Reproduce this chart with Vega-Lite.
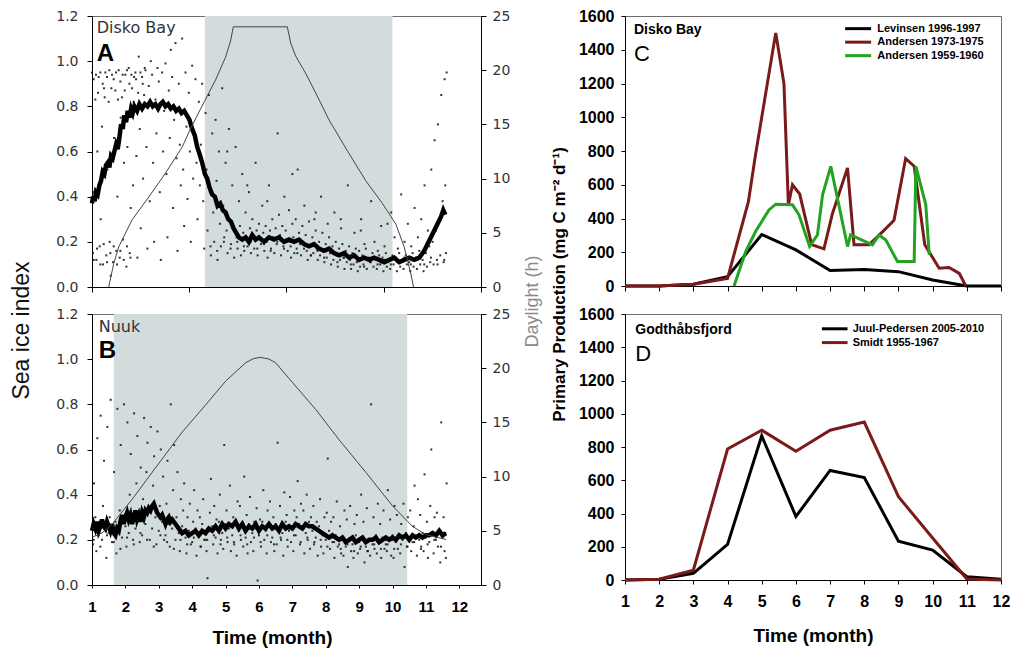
{
"$schema": "https://vega.github.io/schema/vega-lite/v6.json",
"background": "white",
"padding": {"left": 9, "top": 7, "right": 5, "bottom": 5},
"config": {
  "view": {"stroke": "#6e6e6e", "strokeWidth": 1},
  "font": "Liberation Sans",
  "axis": {"grid": false, "domainColor": "#000", "tickColor": "#000", "domainWidth": 1, "tickWidth": 1}
},
"columns": 2,
"spacing": {"row": 27, "column": 144},
"bounds": "flush",
"datasets": {
"shadeA": [{"m": 4.38, "m2": 10.0, "v": 0, "v2": 1.2}],
"shadeB": [{"m": 1.65, "m2": 10.44, "v": 0, "v2": 1.2}],
"ptsA": [
{"m":1.00,"v":0.95},{"m":1.03,"v":0.15},{"m":1.06,"v":0.42},
{"m":1.10,"v":0.83},{"m":1.13,"v":0.12},{"m":1.16,"v":0.60},
{"m":1.20,"v":0.93},{"m":1.23,"v":0.18},{"m":1.26,"v":0.30},
{"m":1.30,"v":0.71},{"m":1.33,"v":0.10},{"m":1.36,"v":0.88},
{"m":1.40,"v":0.95},{"m":1.43,"v":0.14},{"m":1.46,"v":0.52},
{"m":1.50,"v":0.82},{"m":1.53,"v":0.20},{"m":1.56,"v":0.05},
{"m":1.60,"v":0.94},{"m":1.63,"v":0.11},{"m":1.66,"v":0.66},
{"m":1.70,"v":0.87},{"m":1.73,"v":0.16},{"m":1.76,"v":0.40},
{"m":1.80,"v":0.96},{"m":1.83,"v":0.13},{"m":1.86,"v":0.75},
{"m":1.90,"v":0.84},{"m":1.93,"v":0.21},{"m":1.96,"v":0.55},
{"m":2.00,"v":0.94},{"m":2.03,"v":0.09},{"m":2.06,"v":0.62},
{"m":2.10,"v":0.97},{"m":2.13,"v":0.15},{"m":2.16,"v":0.35},
{"m":2.20,"v":0.88},{"m":2.23,"v":0.45},{"m":2.26,"v":0.93},
{"m":2.30,"v":0.95},{"m":2.33,"v":0.58},{"m":2.36,"v":0.13},
{"m":2.40,"v":1.02},{"m":2.43,"v":0.70},{"m":2.46,"v":0.26},
{"m":2.50,"v":0.93},{"m":2.53,"v":0.48},{"m":2.56,"v":0.85},
{"m":2.60,"v":0.96},{"m":2.63,"v":0.62},{"m":2.66,"v":0.17},
{"m":2.70,"v":0.89},{"m":2.73,"v":0.38},{"m":2.76,"v":1.00},
{"m":2.80,"v":0.94},{"m":2.83,"v":0.55},{"m":2.86,"v":0.20},
{"m":2.90,"v":0.83},{"m":2.93,"v":0.68},{"m":2.96,"v":0.97},
{"m":3.00,"v":0.91},{"m":3.03,"v":0.42},{"m":3.06,"v":0.12},
{"m":3.10,"v":0.95},{"m":3.13,"v":0.60},{"m":3.16,"v":0.78},
{"m":3.20,"v":0.99},{"m":3.23,"v":0.50},{"m":3.26,"v":0.22},
{"m":3.30,"v":0.87},{"m":3.33,"v":0.66},{"m":3.36,"v":1.05},
{"m":3.40,"v":0.93},{"m":3.43,"v":0.35},{"m":3.46,"v":0.74},
{"m":3.50,"v":1.08},{"m":3.53,"v":0.57},{"m":3.56,"v":0.16},
{"m":3.60,"v":0.90},{"m":3.63,"v":0.63},{"m":3.66,"v":0.45},
{"m":3.70,"v":1.10},{"m":3.73,"v":0.52},{"m":3.76,"v":0.27},
{"m":3.80,"v":0.95},{"m":3.83,"v":0.71},{"m":3.86,"v":0.39},
{"m":3.90,"v":0.86},{"m":3.93,"v":0.60},{"m":3.96,"v":0.20},
{"m":4.00,"v":0.98},{"m":4.03,"v":0.48},{"m":4.06,"v":0.67},
{"m":4.10,"v":0.92},{"m":4.13,"v":0.55},{"m":4.16,"v":0.30},
{"m":4.20,"v":0.82},{"m":4.23,"v":0.45},{"m":4.26,"v":0.63},
{"m":4.30,"v":0.90},{"m":4.33,"v":0.38},{"m":4.36,"v":0.17},
{"m":4.40,"v":0.77},{"m":4.43,"v":0.52},{"m":4.46,"v":0.25},
{"m":4.50,"v":0.85},{"m":4.53,"v":0.42},{"m":4.56,"v":0.14},
{"m":4.60,"v":0.68},{"m":4.63,"v":0.33},{"m":4.66,"v":0.20},
{"m":4.70,"v":0.74},{"m":4.73,"v":0.47},{"m":4.76,"v":0.12},
{"m":4.80,"v":0.60},{"m":4.83,"v":0.28},{"m":4.86,"v":0.18},
{"m":4.90,"v":0.88},{"m":4.93,"v":0.36},{"m":4.96,"v":0.22},
{"m":5.00,"v":0.55},{"m":5.03,"v":0.25},{"m":5.06,"v":0.15},
{"m":5.10,"v":0.70},{"m":5.13,"v":0.30},{"m":5.16,"v":0.19},
{"m":5.20,"v":0.45},{"m":5.23,"v":0.26},{"m":5.26,"v":0.13},
{"m":5.30,"v":0.62},{"m":5.33,"v":0.22},{"m":5.36,"v":0.17},
{"m":5.40,"v":0.38},{"m":5.43,"v":0.27},{"m":5.46,"v":0.14},
{"m":5.50,"v":0.50},{"m":5.53,"v":0.24},{"m":5.56,"v":0.16},
{"m":5.60,"v":0.33},{"m":5.63,"v":0.21},{"m":5.66,"v":0.18},
{"m":5.70,"v":0.42},{"m":5.73,"v":0.26},{"m":5.76,"v":0.15},
{"m":5.80,"v":0.30},{"m":5.83,"v":0.23},{"m":5.86,"v":0.17},
{"m":5.90,"v":0.55},{"m":5.93,"v":0.25},{"m":5.96,"v":0.14},
{"m":6.00,"v":0.28},{"m":6.03,"v":0.22},{"m":6.06,"v":0.19},
{"m":6.10,"v":0.36},{"m":6.13,"v":0.24},{"m":6.16,"v":0.16},
{"m":6.20,"v":0.27},{"m":6.23,"v":0.20},{"m":6.26,"v":0.13},
{"m":6.30,"v":0.45},{"m":6.33,"v":0.25},{"m":6.36,"v":0.17},
{"m":6.40,"v":0.30},{"m":6.43,"v":0.22},{"m":6.46,"v":0.15},
{"m":6.50,"v":0.26},{"m":6.53,"v":0.19},{"m":6.56,"v":0.68},
{"m":6.60,"v":0.32},{"m":6.63,"v":0.23},{"m":6.66,"v":0.14},
{"m":6.70,"v":0.27},{"m":6.73,"v":0.18},{"m":6.76,"v":0.40},
{"m":6.80,"v":0.25},{"m":6.83,"v":0.21},{"m":6.86,"v":0.16},
{"m":6.90,"v":0.34},{"m":6.93,"v":0.20},{"m":6.96,"v":0.13},
{"m":7.00,"v":0.28},{"m":7.03,"v":0.22},{"m":7.06,"v":0.15},
{"m":7.10,"v":0.30},{"m":7.13,"v":0.17},{"m":7.16,"v":0.52},
{"m":7.20,"v":0.24},{"m":7.23,"v":0.19},{"m":7.26,"v":0.14},
{"m":7.30,"v":0.27},{"m":7.33,"v":0.20},{"m":7.36,"v":0.36},
{"m":7.40,"v":0.23},{"m":7.43,"v":0.16},{"m":7.46,"v":0.12},
{"m":7.50,"v":0.29},{"m":7.53,"v":0.18},{"m":7.56,"v":0.14},
{"m":7.60,"v":0.22},{"m":7.63,"v":0.15},{"m":7.66,"v":0.30},
{"m":7.70,"v":0.25},{"m":7.73,"v":0.17},{"m":7.76,"v":0.12},
{"m":7.80,"v":0.20},{"m":7.83,"v":0.14},{"m":7.86,"v":0.40},
{"m":7.90,"v":0.24},{"m":7.93,"v":0.16},{"m":7.96,"v":0.11},
{"m":8.00,"v":0.19},{"m":8.03,"v":0.13},{"m":8.06,"v":0.28},
{"m":8.10,"v":0.22},{"m":8.13,"v":0.15},{"m":8.16,"v":0.10},
{"m":8.20,"v":0.18},{"m":8.23,"v":0.12},{"m":8.26,"v":0.33},
{"m":8.30,"v":0.20},{"m":8.33,"v":0.14},{"m":8.36,"v":0.09},
{"m":8.40,"v":0.17},{"m":8.43,"v":0.12},{"m":8.46,"v":0.26},
{"m":8.50,"v":0.19},{"m":8.53,"v":0.13},{"m":8.56,"v":0.08},
{"m":8.60,"v":0.16},{"m":8.63,"v":0.11},{"m":8.66,"v":0.45},
{"m":8.70,"v":0.18},{"m":8.73,"v":0.12},{"m":8.76,"v":0.08},
{"m":8.80,"v":0.15},{"m":8.83,"v":0.10},{"m":8.86,"v":0.24},
{"m":8.90,"v":0.17},{"m":8.93,"v":0.11},{"m":8.96,"v":0.07},
{"m":9.00,"v":0.16},{"m":9.03,"v":0.09},{"m":9.06,"v":0.30},
{"m":9.10,"v":0.14},{"m":9.13,"v":0.10},{"m":9.16,"v":0.19},
{"m":9.20,"v":0.17},{"m":9.23,"v":0.08},{"m":9.26,"v":0.12},
{"m":9.30,"v":0.13},{"m":9.33,"v":0.11},{"m":9.36,"v":0.38},
{"m":9.40,"v":0.15},{"m":9.43,"v":0.09},{"m":9.46,"v":0.20},
{"m":9.50,"v":0.12},{"m":9.53,"v":0.08},{"m":9.56,"v":0.16},
{"m":9.60,"v":0.14},{"m":9.63,"v":0.10},{"m":9.66,"v":0.27},
{"m":9.70,"v":0.13},{"m":9.73,"v":0.07},{"m":9.76,"v":0.18},
{"m":9.80,"v":0.15},{"m":9.83,"v":0.09},{"m":9.86,"v":0.11},
{"m":9.90,"v":0.12},{"m":9.93,"v":0.08},{"m":9.96,"v":0.33},
{"m":10.00,"v":0.14},{"m":10.03,"v":0.10},{"m":10.06,"v":0.22},
{"m":10.10,"v":0.13},{"m":10.13,"v":0.07},{"m":10.16,"v":0.17},
{"m":10.20,"v":0.15},{"m":10.23,"v":0.09},{"m":10.26,"v":0.41},
{"m":10.30,"v":0.12},{"m":10.33,"v":0.08},{"m":10.36,"v":0.20},
{"m":10.40,"v":0.14},{"m":10.43,"v":0.10},{"m":10.46,"v":0.28},
{"m":10.50,"v":0.11},{"m":10.53,"v":0.07},{"m":10.56,"v":0.18},
{"m":10.60,"v":0.15},{"m":10.63,"v":0.09},{"m":10.66,"v":0.35},
{"m":10.70,"v":0.13},{"m":10.73,"v":0.08},{"m":10.76,"v":0.22},
{"m":10.80,"v":0.16},{"m":10.83,"v":0.10},{"m":10.86,"v":0.30},
{"m":10.90,"v":0.12},{"m":10.93,"v":0.07},{"m":10.96,"v":0.45},
{"m":11.00,"v":0.15},{"m":11.03,"v":0.09},{"m":11.06,"v":0.25},
{"m":11.10,"v":0.18},{"m":11.13,"v":0.11},{"m":11.16,"v":0.52},
{"m":11.20,"v":0.20},{"m":11.23,"v":0.10},{"m":11.26,"v":0.65},
{"m":11.30,"v":0.25},{"m":11.33,"v":0.12},{"m":11.36,"v":0.72},
{"m":11.40,"v":0.30},{"m":11.43,"v":0.14},{"m":11.46,"v":0.85},
{"m":11.50,"v":0.38},{"m":11.53,"v":0.11},{"m":11.56,"v":0.92},
{"m":11.58,"v":0.45},{"m":11.60,"v":0.15},{"m":11.62,"v":0.95},
{"m":1.05,"v":0.92},{"m":1.12,"v":0.94},{"m":1.18,"v":0.86},{"m":1.25,"v":0.95},{"m":1.32,"v":0.90},{"m":1.38,"v":0.84},{"m":1.45,"v":0.93},{"m":1.52,"v":0.96},{"m":1.58,"v":0.88},{"m":1.65,"v":0.92},{"m":1.72,"v":0.95},{"m":1.78,"v":0.83},{"m":1.85,"v":0.91},{"m":1.92,"v":0.94},{"m":1.98,"v":0.87},{"m":2.05,"v":0.96},{"m":2.12,"v":0.90},{"m":2.18,"v":0.94},{"m":2.25,"v":0.82},{"m":2.32,"v":0.92},{"m":2.38,"v":0.86},{"m":2.45,"v":0.95},{"m":2.52,"v":0.90},{"m":2.58,"v":0.97},
{"m":1.05,"v":0.12},{"m":1.15,"v":0.17},{"m":1.25,"v":0.10},{"m":1.35,"v":0.19},{"m":1.45,"v":0.11},{"m":1.55,"v":0.15},{"m":1.65,"v":0.18},{"m":1.75,"v":0.10},{"m":1.85,"v":0.16},{"m":1.95,"v":0.12},{"m":2.05,"v":0.18},{"m":2.15,"v":0.13},
{"m":4.55,"v":0.18},{"m":4.75,"v":0.16},{"m":4.95,"v":0.20},{"m":5.15,"v":0.17},{"m":5.35,"v":0.20},{"m":5.55,"v":0.18},{"m":5.75,"v":0.20},{"m":5.95,"v":0.17},{"m":6.15,"v":0.19},{"m":6.35,"v":0.16},{"m":6.55,"v":0.20},{"m":6.75,"v":0.17},{"m":6.95,"v":0.18},{"m":7.15,"v":0.15},{"m":7.35,"v":0.17},{"m":7.55,"v":0.14},{"m":7.75,"v":0.16},{"m":7.95,"v":0.13},{"m":8.15,"v":0.15},{"m":8.35,"v":0.11},{"m":8.55,"v":0.13},{"m":8.75,"v":0.10},{"m":8.95,"v":0.12},{"m":9.15,"v":0.09},{"m":9.35,"v":0.11},{"m":9.55,"v":0.10},{"m":9.75,"v":0.12},{"m":9.95,"v":0.10},{"m":10.15,"v":0.11},{"m":10.35,"v":0.13},{"m":10.55,"v":0.10},{"m":10.75,"v":0.12},{"m":10.95,"v":0.10},{"m":11.15,"v":0.13},{"m":11.35,"v":0.10},{"m":11.55,"v":0.12},
{"m":5.05,"v":0.60},{"m":5.65,"v":0.45},{"m":6.25,"v":0.38},{"m":7.00,"v":0.50},{"m":7.70,"v":0.33},{"m":8.45,"v":0.30},{"m":9.05,"v":0.25},{"m":9.85,"v":0.28}
],
"ptsB": [
{"m":1.00,"v":0.25},{"m":1.03,"v":0.18},{"m":1.06,"v":0.45},
{"m":1.10,"v":0.30},{"m":1.13,"v":0.15},{"m":1.16,"v":0.65},
{"m":1.20,"v":0.22},{"m":1.23,"v":0.28},{"m":1.26,"v":0.75},
{"m":1.30,"v":0.20},{"m":1.33,"v":0.35},{"m":1.36,"v":0.55},
{"m":1.40,"v":0.27},{"m":1.43,"v":0.12},{"m":1.46,"v":0.70},
{"m":1.50,"v":0.23},{"m":1.53,"v":0.30},{"m":1.56,"v":0.82},
{"m":1.60,"v":0.19},{"m":1.63,"v":0.26},{"m":1.66,"v":0.50},
{"m":1.70,"v":0.28},{"m":1.73,"v":0.14},{"m":1.76,"v":0.78},
{"m":1.80,"v":0.24},{"m":1.83,"v":0.33},{"m":1.86,"v":0.62},
{"m":1.90,"v":0.21},{"m":1.93,"v":0.30},{"m":1.96,"v":0.80},
{"m":2.00,"v":0.26},{"m":2.03,"v":0.17},{"m":2.06,"v":0.72},
{"m":2.10,"v":0.23},{"m":2.13,"v":0.40},{"m":2.16,"v":0.58},
{"m":2.20,"v":0.29},{"m":2.23,"v":0.20},{"m":2.26,"v":0.76},
{"m":2.30,"v":0.25},{"m":2.33,"v":0.45},{"m":2.36,"v":0.66},
{"m":2.40,"v":0.31},{"m":2.43,"v":0.19},{"m":2.46,"v":0.52},
{"m":2.50,"v":0.22},{"m":2.53,"v":0.38},{"m":2.56,"v":0.74},
{"m":2.60,"v":0.27},{"m":2.63,"v":0.50},{"m":2.66,"v":0.63},
{"m":2.70,"v":0.33},{"m":2.73,"v":0.20},{"m":2.76,"v":0.70},
{"m":2.80,"v":0.25},{"m":2.83,"v":0.44},{"m":2.86,"v":0.57},
{"m":2.90,"v":0.30},{"m":2.93,"v":0.18},{"m":2.96,"v":0.68},
{"m":3.00,"v":0.24},{"m":3.03,"v":0.35},{"m":3.06,"v":0.60},
{"m":3.10,"v":0.28},{"m":3.13,"v":0.48},{"m":3.16,"v":0.20},
{"m":3.20,"v":0.22},{"m":3.23,"v":0.36},{"m":3.26,"v":0.55},
{"m":3.30,"v":0.27},{"m":3.33,"v":0.17},{"m":3.36,"v":0.80},
{"m":3.40,"v":0.25},{"m":3.43,"v":0.42},{"m":3.46,"v":0.62},
{"m":3.50,"v":0.20},{"m":3.53,"v":0.30},{"m":3.56,"v":0.50},
{"m":3.60,"v":0.23},{"m":3.63,"v":0.15},{"m":3.66,"v":0.38},
{"m":3.70,"v":0.26},{"m":3.73,"v":0.33},{"m":3.76,"v":0.45},
{"m":3.80,"v":0.21},{"m":3.83,"v":0.14},{"m":3.86,"v":0.30},
{"m":3.90,"v":0.24},{"m":3.93,"v":0.36},{"m":3.96,"v":0.18},
{"m":4.00,"v":0.19},{"m":4.03,"v":0.28},{"m":4.06,"v":0.42},
{"m":4.10,"v":0.25},{"m":4.13,"v":0.13},{"m":4.16,"v":0.33},
{"m":4.20,"v":0.22},{"m":4.23,"v":0.30},{"m":4.26,"v":0.17},
{"m":4.30,"v":0.27},{"m":4.33,"v":0.38},{"m":4.36,"v":0.20},
{"m":4.40,"v":0.20},{"m":4.43,"v":0.15},{"m":4.46,"v":0.03},
{"m":4.50,"v":0.24},{"m":4.53,"v":0.32},{"m":4.56,"v":0.47},
{"m":4.60,"v":0.26},{"m":4.63,"v":0.18},{"m":4.66,"v":0.35},
{"m":4.70,"v":0.21},{"m":4.73,"v":0.29},{"m":4.76,"v":0.14},
{"m":4.80,"v":0.28},{"m":4.83,"v":0.40},{"m":4.86,"v":0.20},
{"m":4.90,"v":0.23},{"m":4.93,"v":0.16},{"m":4.96,"v":0.62},
{"m":5.00,"v":0.27},{"m":5.03,"v":0.33},{"m":5.06,"v":0.19},
{"m":5.10,"v":0.25},{"m":5.13,"v":0.44},{"m":5.16,"v":0.15},
{"m":5.20,"v":0.22},{"m":5.23,"v":0.30},{"m":5.26,"v":0.18},
{"m":5.30,"v":0.28},{"m":5.33,"v":0.13},{"m":5.36,"v":0.37},
{"m":5.40,"v":0.24},{"m":5.43,"v":0.35},{"m":5.46,"v":0.20},
{"m":5.50,"v":0.26},{"m":5.53,"v":0.17},{"m":5.56,"v":0.48},
{"m":5.60,"v":0.21},{"m":5.63,"v":0.31},{"m":5.66,"v":0.14},
{"m":5.70,"v":0.27},{"m":5.73,"v":0.39},{"m":5.76,"v":0.19},
{"m":5.80,"v":0.23},{"m":5.83,"v":0.15},{"m":5.86,"v":0.28},
{"m":5.90,"v":0.25},{"m":5.93,"v":0.34},{"m":5.96,"v":0.02},
{"m":6.00,"v":0.22},{"m":6.03,"v":0.29},{"m":6.06,"v":0.17},
{"m":6.10,"v":0.28},{"m":6.13,"v":0.42},{"m":6.16,"v":0.20},
{"m":6.20,"v":0.24},{"m":6.23,"v":0.14},{"m":6.26,"v":0.33},
{"m":6.30,"v":0.26},{"m":6.33,"v":0.37},{"m":6.36,"v":0.19},
{"m":6.40,"v":0.21},{"m":6.43,"v":0.30},{"m":6.46,"v":0.15},
{"m":6.50,"v":0.27},{"m":6.53,"v":0.18},{"m":6.56,"v":0.63},
{"m":6.60,"v":0.25},{"m":6.63,"v":0.35},{"m":6.66,"v":0.20},
{"m":6.70,"v":0.23},{"m":6.73,"v":0.13},{"m":6.76,"v":0.41},
{"m":6.80,"v":0.28},{"m":6.83,"v":0.31},{"m":6.86,"v":0.17},
{"m":6.90,"v":0.24},{"m":6.93,"v":0.39},{"m":6.96,"v":0.19},
{"m":7.00,"v":0.26},{"m":7.03,"v":0.15},{"m":7.06,"v":0.33},
{"m":7.10,"v":0.22},{"m":7.13,"v":0.30},{"m":7.16,"v":0.46},
{"m":7.20,"v":0.27},{"m":7.23,"v":0.18},{"m":7.26,"v":0.36},
{"m":7.30,"v":0.25},{"m":7.33,"v":0.33},{"m":7.36,"v":0.14},
{"m":7.40,"v":0.23},{"m":7.43,"v":0.40},{"m":7.46,"v":0.20},
{"m":7.50,"v":0.28},{"m":7.53,"v":0.16},{"m":7.56,"v":0.30},
{"m":7.60,"v":0.24},{"m":7.63,"v":0.35},{"m":7.66,"v":0.19},
{"m":7.70,"v":0.21},{"m":7.73,"v":0.28},{"m":7.76,"v":0.13},
{"m":7.80,"v":0.26},{"m":7.83,"v":0.38},{"m":7.86,"v":0.17},
{"m":7.90,"v":0.22},{"m":7.93,"v":0.14},{"m":7.96,"v":0.30},
{"m":8.00,"v":0.20},{"m":8.03,"v":0.32},{"m":8.06,"v":0.56},
{"m":8.10,"v":0.24},{"m":8.13,"v":0.16},{"m":8.16,"v":0.28},
{"m":8.20,"v":0.19},{"m":8.23,"v":0.30},{"m":8.26,"v":0.12},
{"m":8.30,"v":0.22},{"m":8.33,"v":0.37},{"m":8.36,"v":0.17},
{"m":8.40,"v":0.18},{"m":8.43,"v":0.26},{"m":8.46,"v":0.14},
{"m":8.50,"v":0.21},{"m":8.53,"v":0.13},{"m":8.56,"v":0.33},
{"m":8.60,"v":0.17},{"m":8.63,"v":0.29},{"m":8.66,"v":0.08},
{"m":8.70,"v":0.20},{"m":8.73,"v":0.35},{"m":8.76,"v":0.15},
{"m":8.80,"v":0.18},{"m":8.83,"v":0.12},{"m":8.86,"v":0.27},
{"m":8.90,"v":0.22},{"m":8.93,"v":0.31},{"m":8.96,"v":0.14},
{"m":9.00,"v":0.19},{"m":9.03,"v":0.16},{"m":9.06,"v":0.40},
{"m":9.10,"v":0.21},{"m":9.13,"v":0.28},{"m":9.16,"v":0.10},
{"m":9.20,"v":0.17},{"m":9.23,"v":0.34},{"m":9.26,"v":0.15},
{"m":9.30,"v":0.20},{"m":9.33,"v":0.13},{"m":9.36,"v":0.80},
{"m":9.40,"v":0.18},{"m":9.43,"v":0.30},{"m":9.46,"v":0.16},
{"m":9.50,"v":0.22},{"m":9.53,"v":0.14},{"m":9.56,"v":0.36},
{"m":9.60,"v":0.19},{"m":9.63,"v":0.27},{"m":9.66,"v":0.12},
{"m":9.70,"v":0.21},{"m":9.73,"v":0.33},{"m":9.76,"v":0.16},
{"m":9.80,"v":0.18},{"m":9.83,"v":0.15},{"m":9.86,"v":0.42},
{"m":9.90,"v":0.20},{"m":9.93,"v":0.29},{"m":9.96,"v":0.13},
{"m":10.00,"v":0.22},{"m":10.03,"v":0.12},{"m":10.06,"v":0.35},
{"m":10.10,"v":0.19},{"m":10.13,"v":0.31},{"m":10.16,"v":0.16},
{"m":10.20,"v":0.21},{"m":10.23,"v":0.14},{"m":10.26,"v":0.27},
{"m":10.30,"v":0.20},{"m":10.33,"v":0.36},{"m":10.36,"v":0.08},
{"m":10.40,"v":0.23},{"m":10.43,"v":0.17},{"m":10.46,"v":0.30},
{"m":10.50,"v":0.21},{"m":10.53,"v":0.33},{"m":10.56,"v":0.15},
{"m":10.60,"v":0.19},{"m":10.63,"v":0.26},{"m":10.66,"v":0.44},
{"m":10.70,"v":0.22},{"m":10.73,"v":0.13},{"m":10.76,"v":0.38},
{"m":10.80,"v":0.20},{"m":10.83,"v":0.31},{"m":10.86,"v":0.17},
{"m":10.90,"v":0.23},{"m":10.93,"v":0.15},{"m":10.96,"v":0.49},
{"m":11.00,"v":0.21},{"m":11.03,"v":0.28},{"m":11.06,"v":0.12},
{"m":11.10,"v":0.19},{"m":11.13,"v":0.35},{"m":11.16,"v":0.60},
{"m":11.20,"v":0.22},{"m":11.23,"v":0.14},{"m":11.26,"v":0.30},
{"m":11.30,"v":0.20},{"m":11.33,"v":0.32},{"m":11.36,"v":0.17},
{"m":11.40,"v":0.24},{"m":11.43,"v":0.10},{"m":11.46,"v":0.72},
{"m":11.50,"v":0.21},{"m":11.53,"v":0.30},{"m":11.56,"v":0.15},
{"m":11.58,"v":0.23},{"m":11.60,"v":0.12},{"m":11.62,"v":0.45},
{"m":1.05,"v":0.20},{"m":1.25,"v":0.17},{"m":1.45,"v":0.22},{"m":1.65,"v":0.19},{"m":1.85,"v":0.16},{"m":2.05,"v":0.21},{"m":2.25,"v":0.18},{"m":2.45,"v":0.23},{"m":2.65,"v":0.20},{"m":2.85,"v":0.17},{"m":3.05,"v":0.22},{"m":3.25,"v":0.19},{"m":3.45,"v":0.16},{"m":3.65,"v":0.20},{"m":3.85,"v":0.18},{"m":4.05,"v":0.21},{"m":4.25,"v":0.17},{"m":4.45,"v":0.20},{"m":4.65,"v":0.22},{"m":4.85,"v":0.18},{"m":5.05,"v":0.21},{"m":5.25,"v":0.19},{"m":5.45,"v":0.22},{"m":5.65,"v":0.18},{"m":5.85,"v":0.21},{"m":6.05,"v":0.19},{"m":6.25,"v":0.22},{"m":6.45,"v":0.18},{"m":6.65,"v":0.21},{"m":6.85,"v":0.20},{"m":7.05,"v":0.22},{"m":7.25,"v":0.19},{"m":7.45,"v":0.21},{"m":7.65,"v":0.18},{"m":7.85,"v":0.20},{"m":8.05,"v":0.17},{"m":8.25,"v":0.19},{"m":8.45,"v":0.16},{"m":8.65,"v":0.18},{"m":8.85,"v":0.15},{"m":9.05,"v":0.17},{"m":9.25,"v":0.15},{"m":9.45,"v":0.18},{"m":9.65,"v":0.16},{"m":9.85,"v":0.18},{"m":10.05,"v":0.16},{"m":10.25,"v":0.18},{"m":10.45,"v":0.17},{"m":10.65,"v":0.19},{"m":10.85,"v":0.16},{"m":11.05,"v":0.18},{"m":11.25,"v":0.20},{"m":11.45,"v":0.17}
],
"iceA": [
{"m":1.0,"v":0.37},{"m":1.03,"v":0.4},{"m":1.08,"v":0.38},{"m":1.12,"v":0.42},{"m":1.17,"v":0.41},{"m":1.22,"v":0.45},{"m":1.27,"v":0.47},{"m":1.32,"v":0.51},{"m":1.37,"v":0.5},{"m":1.42,"v":0.54},{"m":1.47,"v":0.55},{"m":1.52,"v":0.53},{"m":1.57,"v":0.58},{"m":1.62,"v":0.57},{"m":1.67,"v":0.6},{"m":1.72,"v":0.63},{"m":1.77,"v":0.61},{"m":1.82,"v":0.66},{"m":1.87,"v":0.72},{"m":1.92,"v":0.7},{"m":1.97,"v":0.76},{"m":2.02,"v":0.73},{"m":2.07,"v":0.78},{"m":2.12,"v":0.75},{"m":2.17,"v":0.79},{"m":2.22,"v":0.77},{"m":2.27,"v":0.8},{"m":2.35,"v":0.78},{"m":2.42,"v":0.81},{"m":2.5,"v":0.79},{"m":2.58,"v":0.81},{"m":2.66,"v":0.8},{"m":2.74,"v":0.82},{"m":2.82,"v":0.8},{"m":2.9,"v":0.81},{"m":2.98,"v":0.79},{"m":3.05,"v":0.81},{"m":3.12,"v":0.82},{"m":3.2,"v":0.8},{"m":3.28,"v":0.81},{"m":3.36,"v":0.79},{"m":3.44,"v":0.8},{"m":3.52,"v":0.78},{"m":3.6,"v":0.79},{"m":3.68,"v":0.77},{"m":3.76,"v":0.78},{"m":3.84,"v":0.76},{"m":3.92,"v":0.74},{"m":4.0,"v":0.7},{"m":4.08,"v":0.67},{"m":4.15,"v":0.62},{"m":4.22,"v":0.59},{"m":4.3,"v":0.55},{"m":4.38,"v":0.5},{"m":4.45,"v":0.48},{"m":4.52,"v":0.44},{"m":4.6,"v":0.41},{"m":4.68,"v":0.4},{"m":4.76,"v":0.36},{"m":4.84,"v":0.37},{"m":4.92,"v":0.34},{"m":5.0,"v":0.33},{"m":5.08,"v":0.3},{"m":5.16,"v":0.29},{"m":5.24,"v":0.26},{"m":5.32,"v":0.24},{"m":5.4,"v":0.22},{"m":5.5,"v":0.21},{"m":5.6,"v":0.22},{"m":5.7,"v":0.2},{"m":5.8,"v":0.23},{"m":5.9,"v":0.21},{"m":6.0,"v":0.22},{"m":6.15,"v":0.2},{"m":6.3,"v":0.22},{"m":6.45,"v":0.21},{"m":6.6,"v":0.22},{"m":6.75,"v":0.2},{"m":6.9,"v":0.21},{"m":7.05,"v":0.2},{"m":7.2,"v":0.21},{"m":7.35,"v":0.19},{"m":7.5,"v":0.18},{"m":7.65,"v":0.19},{"m":7.8,"v":0.17},{"m":7.95,"v":0.16},{"m":8.1,"v":0.17},{"m":8.25,"v":0.15},{"m":8.4,"v":0.14},{"m":8.55,"v":0.15},{"m":8.7,"v":0.13},{"m":8.85,"v":0.14},{"m":9.0,"v":0.12},{"m":9.15,"v":0.13},{"m":9.3,"v":0.12},{"m":9.45,"v":0.13},{"m":9.6,"v":0.12},{"m":9.75,"v":0.11},{"m":9.9,"v":0.12},{"m":10.05,"v":0.13},{"m":10.2,"v":0.11},{"m":10.35,"v":0.12},{"m":10.5,"v":0.13},{"m":10.65,"v":0.12},{"m":10.8,"v":0.13},{"m":10.95,"v":0.16},{"m":11.05,"v":0.19},{"m":11.15,"v":0.22},{"m":11.25,"v":0.25},{"m":11.35,"v":0.28},{"m":11.45,"v":0.31},{"m":11.52,"v":0.34},{"m":11.58,"v":0.32}
],
"iceB": [
{"m":1.0,"v":0.24},{"m":1.05,"v":0.27},{"m":1.1,"v":0.25},{"m":1.15,"v":0.28},{"m":1.2,"v":0.24},{"m":1.25,"v":0.26},{"m":1.3,"v":0.29},{"m":1.35,"v":0.26},{"m":1.4,"v":0.25},{"m":1.45,"v":0.28},{"m":1.5,"v":0.26},{"m":1.55,"v":0.24},{"m":1.6,"v":0.27},{"m":1.65,"v":0.23},{"m":1.7,"v":0.22},{"m":1.75,"v":0.25},{"m":1.8,"v":0.24},{"m":1.85,"v":0.28},{"m":1.9,"v":0.31},{"m":1.95,"v":0.27},{"m":2.0,"v":0.3},{"m":2.05,"v":0.32},{"m":2.1,"v":0.29},{"m":2.15,"v":0.31},{"m":2.2,"v":0.27},{"m":2.25,"v":0.3},{"m":2.3,"v":0.33},{"m":2.35,"v":0.29},{"m":2.4,"v":0.31},{"m":2.45,"v":0.28},{"m":2.5,"v":0.32},{"m":2.55,"v":0.3},{"m":2.6,"v":0.33},{"m":2.65,"v":0.32},{"m":2.7,"v":0.34},{"m":2.75,"v":0.33},{"m":2.8,"v":0.35},{"m":2.85,"v":0.36},{"m":2.9,"v":0.34},{"m":2.95,"v":0.32},{"m":3.0,"v":0.31},{"m":3.05,"v":0.3},{"m":3.1,"v":0.31},{"m":3.15,"v":0.29},{"m":3.2,"v":0.27},{"m":3.25,"v":0.29},{"m":3.3,"v":0.3},{"m":3.35,"v":0.28},{"m":3.4,"v":0.29},{"m":3.5,"v":0.27},{"m":3.6,"v":0.25},{"m":3.7,"v":0.23},{"m":3.8,"v":0.24},{"m":3.9,"v":0.22},{"m":4.0,"v":0.23},{"m":4.1,"v":0.24},{"m":4.2,"v":0.22},{"m":4.3,"v":0.24},{"m":4.4,"v":0.23},{"m":4.5,"v":0.25},{"m":4.6,"v":0.24},{"m":4.7,"v":0.26},{"m":4.8,"v":0.24},{"m":4.9,"v":0.27},{"m":5.0,"v":0.25},{"m":5.1,"v":0.27},{"m":5.2,"v":0.26},{"m":5.3,"v":0.28},{"m":5.4,"v":0.25},{"m":5.5,"v":0.27},{"m":5.6,"v":0.24},{"m":5.7,"v":0.26},{"m":5.8,"v":0.25},{"m":5.9,"v":0.27},{"m":6.0,"v":0.24},{"m":6.1,"v":0.26},{"m":6.2,"v":0.25},{"m":6.3,"v":0.27},{"m":6.4,"v":0.25},{"m":6.5,"v":0.26},{"m":6.6,"v":0.24},{"m":6.7,"v":0.27},{"m":6.8,"v":0.25},{"m":6.9,"v":0.26},{"m":7.0,"v":0.25},{"m":7.1,"v":0.27},{"m":7.2,"v":0.26},{"m":7.3,"v":0.25},{"m":7.4,"v":0.27},{"m":7.5,"v":0.26},{"m":7.6,"v":0.26},{"m":7.7,"v":0.25},{"m":7.8,"v":0.24},{"m":7.9,"v":0.23},{"m":8.0,"v":0.22},{"m":8.1,"v":0.21},{"m":8.2,"v":0.22},{"m":8.3,"v":0.21},{"m":8.4,"v":0.2},{"m":8.5,"v":0.21},{"m":8.6,"v":0.19},{"m":8.7,"v":0.2},{"m":8.8,"v":0.21},{"m":8.9,"v":0.19},{"m":9.0,"v":0.2},{"m":9.1,"v":0.21},{"m":9.2,"v":0.19},{"m":9.3,"v":0.2},{"m":9.4,"v":0.2},{"m":9.5,"v":0.21},{"m":9.6,"v":0.19},{"m":9.7,"v":0.2},{"m":9.8,"v":0.21},{"m":9.9,"v":0.2},{"m":10.0,"v":0.21},{"m":10.1,"v":0.2},{"m":10.2,"v":0.22},{"m":10.3,"v":0.21},{"m":10.4,"v":0.22},{"m":10.5,"v":0.2},{"m":10.6,"v":0.22},{"m":10.7,"v":0.21},{"m":10.8,"v":0.22},{"m":10.9,"v":0.21},{"m":11.0,"v":0.22},{"m":11.1,"v":0.22},{"m":11.2,"v":0.23},{"m":11.3,"v":0.22},{"m":11.4,"v":0.24},{"m":11.5,"v":0.22},{"m":11.6,"v":0.23}
],
"dayA": [
{"m":1.5,"h":0},{"m":1.65,"h":2.15},{"m":1.8,"h":3.7},{"m":2.2,"h":6.2},{"m":2.7,"h":8.3},{"m":3.2,"h":10.5},{"m":3.7,"h":12.9},{"m":3.95,"h":14.6},{"m":4.38,"h":17.2},{"m":4.7,"h":19.1},{"m":5.0,"h":21.2},{"m":5.15,"h":22.7},{"m":5.23,"h":24},{"m":6.85,"h":24},{"m":6.95,"h":22.5},{"m":7.1,"h":21.3},{"m":7.4,"h":19.7},{"m":7.7,"h":17.9},{"m":8.1,"h":15.4},{"m":8.7,"h":12.3},{"m":9.2,"h":9.8},{"m":9.7,"h":7.7},{"m":10.1,"h":5.8},{"m":10.35,"h":3.7},{"m":10.55,"h":1.2},{"m":10.63,"h":0}
],
"dayB": [
{"m":1.0,"h":4.4},{"m":1.3,"h":4.8},{"m":1.6,"h":5.6},{"m":2.2,"h":7.9},{"m":2.9,"h":10.8},{"m":3.7,"h":14.1},{"m":4.4,"h":16.6},{"m":5.0,"h":18.8},{"m":5.6,"h":20.5},{"m":5.85,"h":20.9},{"m":6.05,"h":21.0},{"m":6.3,"h":20.85},{"m":6.5,"h":20.5},{"m":7.0,"h":18.7},{"m":7.7,"h":16.2},{"m":8.4,"h":13.4},{"m":9.2,"h":10.4},{"m":10.0,"h":7.3},{"m":10.6,"h":5.4},{"m":11.0,"h":4.65},{"m":11.6,"h":4.2}
],
"ppC": [
{"s":"Levinsen 1996-1997","m":1,"p":0},{"s":"Levinsen 1996-1997","m":2,"p":0},{"s":"Levinsen 1996-1997","m":3,"p":10},{"s":"Levinsen 1996-1997","m":4,"p":55},{"s":"Levinsen 1996-1997","m":5,"p":305},{"s":"Levinsen 1996-1997","m":6,"p":214},{"s":"Levinsen 1996-1997","m":7,"p":92},{"s":"Levinsen 1996-1997","m":8,"p":98},{"s":"Levinsen 1996-1997","m":9,"p":85},{"s":"Levinsen 1996-1997","m":10,"p":36},{"s":"Levinsen 1996-1997","m":11,"p":0},{"s":"Levinsen 1996-1997","m":12,"p":0},
{"s":"Andersen 1973-1975","m":1,"p":0},{"s":"Andersen 1973-1975","m":2,"p":0},{"s":"Andersen 1973-1975","m":3,"p":10},{"s":"Andersen 1973-1975","m":4,"p":45},{"s":"Andersen 1973-1975","m":4.61,"p":500},{"s":"Andersen 1973-1975","m":4.82,"p":780},{"s":"Andersen 1973-1975","m":5.41,"p":1500},{"s":"Andersen 1973-1975","m":5.65,"p":1200},{"s":"Andersen 1973-1975","m":5.78,"p":480},{"s":"Andersen 1973-1975","m":5.9,"p":600},{"s":"Andersen 1973-1975","m":6.11,"p":545},{"s":"Andersen 1973-1975","m":6.46,"p":245},{"s":"Andersen 1973-1975","m":6.82,"p":220},{"s":"Andersen 1973-1975","m":7.07,"p":430},{"s":"Andersen 1973-1975","m":7.51,"p":700},{"s":"Andersen 1973-1975","m":7.7,"p":245},{"s":"Andersen 1973-1975","m":8.14,"p":245},{"s":"Andersen 1973-1975","m":8.43,"p":300},{"s":"Andersen 1973-1975","m":8.87,"p":390},{"s":"Andersen 1973-1975","m":9.21,"p":755},{"s":"Andersen 1973-1975","m":9.46,"p":710},{"s":"Andersen 1973-1975","m":9.77,"p":245},{"s":"Andersen 1973-1975","m":10.19,"p":105},{"s":"Andersen 1973-1975","m":10.48,"p":110},{"s":"Andersen 1973-1975","m":10.78,"p":75},{"s":"Andersen 1973-1975","m":10.97,"p":0},
{"s":"Andersen 1959-1960","m":4.19,"p":0},{"s":"Andersen 1959-1960","m":4.53,"p":204},{"s":"Andersen 1959-1960","m":4.82,"p":323},{"s":"Andersen 1959-1960","m":5.21,"p":451},{"s":"Andersen 1959-1960","m":5.41,"p":485},{"s":"Andersen 1959-1960","m":5.9,"p":481},{"s":"Andersen 1959-1960","m":6.09,"p":422},{"s":"Andersen 1959-1960","m":6.4,"p":234},{"s":"Andersen 1959-1960","m":6.63,"p":303},{"s":"Andersen 1959-1960","m":6.78,"p":540},{"s":"Andersen 1959-1960","m":7.02,"p":709},{"s":"Andersen 1959-1960","m":7.51,"p":234},{"s":"Andersen 1959-1960","m":7.6,"p":303},{"s":"Andersen 1959-1960","m":8.24,"p":244},{"s":"Andersen 1959-1960","m":8.43,"p":303},{"s":"Andersen 1959-1960","m":8.63,"p":273},{"s":"Andersen 1959-1960","m":8.97,"p":145},{"s":"Andersen 1959-1960","m":9.46,"p":145},{"s":"Andersen 1959-1960","m":9.51,"p":709},{"s":"Andersen 1959-1960","m":9.8,"p":481},{"s":"Andersen 1959-1960","m":9.9,"p":184}
],
"legC": [
{"s":"Levinsen 1996-1997","m":7.44,"m2":8.2,"mt":8.38,"p":1525},
{"s":"Andersen 1973-1975","m":7.44,"m2":8.2,"mt":8.38,"p":1445},
{"s":"Andersen 1959-1960","m":7.44,"m2":8.2,"mt":8.38,"p":1365}
],
"ppD": [
{"s":"Juul-Pedersen 2005-2010","m":1,"p":0},{"s":"Juul-Pedersen 2005-2010","m":2,"p":5},{"s":"Juul-Pedersen 2005-2010","m":3,"p":40},{"s":"Juul-Pedersen 2005-2010","m":4,"p":214},{"s":"Juul-Pedersen 2005-2010","m":5,"p":867},{"s":"Juul-Pedersen 2005-2010","m":6,"p":382},{"s":"Juul-Pedersen 2005-2010","m":7,"p":659},{"s":"Juul-Pedersen 2005-2010","m":8,"p":616},{"s":"Juul-Pedersen 2005-2010","m":9,"p":234},{"s":"Juul-Pedersen 2005-2010","m":10,"p":180},{"s":"Juul-Pedersen 2005-2010","m":11,"p":20},{"s":"Juul-Pedersen 2005-2010","m":12,"p":4},
{"s":"Smidt 1955-1967","m":1,"p":0},{"s":"Smidt 1955-1967","m":2,"p":5},{"s":"Smidt 1955-1967","m":3,"p":59},{"s":"Smidt 1955-1967","m":4,"p":788},{"s":"Smidt 1955-1967","m":5,"p":901},{"s":"Smidt 1955-1967","m":6,"p":774},{"s":"Smidt 1955-1967","m":7,"p":901},{"s":"Smidt 1955-1967","m":8,"p":950},{"s":"Smidt 1955-1967","m":9,"p":501},{"s":"Smidt 1955-1967","m":10,"p":253},{"s":"Smidt 1955-1967","m":11,"p":6},{"s":"Smidt 1955-1967","m":12,"p":0}
],
"legD": [
{"s":"Juul-Pedersen 2005-2010","m":6.76,"m2":7.51,"mt":7.66,"p":1511},
{"s":"Smidt 1955-1967","m":6.76,"m2":7.51,"mt":7.66,"p":1428}
]
},
"concat": [
{
  "width": 389, "height": 271,
  "encoding": {"x": {"field": "m", "type": "quantitative", "scale": {"domain": [1, 12.65], "nice": false, "zero": false},
    "axis": {"values": [1, 3.9, 6.82, 9.75, 12.65], "labels": false, "tickSize": 5, "title": null}}},
  "layer": [
    {
      "encoding": {"y": {"field": "v", "type": "quantitative", "scale": {"domain": [0, 1.2], "nice": false, "zero": false},
        "axis": {"values": [0, 0.2, 0.4, 0.6, 0.8, 1.0, 1.2], "format": ".1f", "labelFont": "DejaVu Sans", "labelFontSize": 14, "labelColor": "#333", "tickSize": 5, "labelPadding": 9,
          "title": "Sea ice index", "titleFont": "Liberation Sans", "titleFontSize": 23, "titleFontWeight": "normal", "titleColor": "#111", "titleAngle": 270, "titleX": -71, "titleY": 314, "titleAlign": "center", "titleBaseline": "middle"}}},
      "layer": [
        {"data": {"name": "shadeA"}, "mark": {"type": "rect", "color": "#d3dcdd"}, "encoding": {"x2": {"field": "m2"}, "y2": {"field": "v2"}}},
        {"data": {"name": "ptsA"}, "mark": {"type": "square", "size": 4, "color": "#111", "opacity": 0.85}},
        {"data": {"name": "iceA"}, "mark": {"type": "line", "color": "#000", "strokeWidth": 4.5}},
        {"data": {"values": [{"m": 1.14, "v": 1.123, "t": "Disko Bay"}]}, "mark": {"type": "text", "align": "left", "baseline": "alphabetic", "font": "DejaVu Sans", "fontSize": 16, "color": "#333"}, "encoding": {"text": {"field": "t", "type": "nominal"}}},
        {"data": {"values": [{"m": 1.14, "v": 1.0, "t": "A"}]}, "mark": {"type": "text", "align": "left", "baseline": "alphabetic", "fontSize": 24, "fontWeight": "bold", "color": "#000"}, "encoding": {"text": {"field": "t", "type": "nominal"}}}
      ]
    },
    {"data": {"name": "dayA"}, "mark": {"type": "line", "color": "#444", "strokeWidth": 1},
     "encoding": {"y": {"field": "h", "type": "quantitative", "scale": {"domain": [0, 25], "nice": false},
       "axis": {"orient": "right", "values": [0, 5, 10, 15, 20, 25], "labelFont": "DejaVu Sans", "labelFontSize": 14, "labelColor": "#333", "tickSize": 5, "labelPadding": 6,
         "title": "Daylight (h)", "titleFont": "Liberation Sans", "titleFontSize": 18, "titleFontWeight": "normal", "titleColor": "#8a8a8a", "titleAngle": 270, "titleX": 51, "titleY": 285, "titleAlign": "center", "titleBaseline": "middle"}}}}
  ],
  "resolve": {"scale": {"y": "independent"}}
},
{
  "width": 376, "height": 270,
  "encoding": {
    "x": {"field": "m", "type": "quantitative", "scale": {"domain": [1, 12], "nice": false, "zero": false},
      "axis": {"values": [1,2,3,4,5,6,7,8,9,10,11,12], "labels": false, "tickSize": 5, "title": null}},
    "y": {"field": "p", "type": "quantitative", "scale": {"domain": [0, 1600], "nice": false},
      "axis": {"values": [0,200,400,600,800,1000,1200,1400,1600], "format": "d", "labelFontSize": 16, "labelFontWeight": "bold", "labelColor": "#000", "tickSize": 4, "labelPadding": 7,
        "title": "Primary Production (mg C m⁻² d⁻¹)", "titleFontSize": 17, "titleFontWeight": "bold", "titleColor": "#000", "titleAngle": 270, "titleX": -66, "titleY": 268, "titleAlign": "center", "titleBaseline": "middle"}}
  },
  "layer": [
    {"data": {"name": "ppC"}, "mark": {"type": "line"},
     "encoding": {
       "color": {"field": "s", "type": "nominal", "scale": {"domain": ["Levinsen 1996-1997", "Andersen 1973-1975", "Andersen 1959-1960"], "range": ["#000000", "#7a1a1a", "#22a322"]}, "legend": null},
       "strokeWidth": {"field": "s", "type": "nominal", "scale": {"domain": ["Levinsen 1996-1997", "Andersen 1973-1975", "Andersen 1959-1960"], "range": [3, 3, 5]}, "legend": null}}},
    {"data": {"name": "legC"}, "mark": {"type": "rule"},
     "encoding": {"x2": {"field": "m2"},
       "color": {"field": "s", "type": "nominal", "legend": null},
       "strokeWidth": {"field": "s", "type": "nominal", "legend": null}}},
    {"data": {"name": "legC"}, "mark": {"type": "text", "align": "left", "baseline": "middle", "fontSize": 11, "fontWeight": "bold", "color": "#000"},
     "encoding": {"x": {"field": "mt", "type": "quantitative"}, "text": {"field": "s", "type": "nominal"}}},
    {"data": {"values": [{"m": 1.26, "p": 1493, "t": "Disko Bay"}]}, "mark": {"type": "text", "align": "left", "baseline": "alphabetic", "fontSize": 14, "fontWeight": "bold", "color": "#000"}, "encoding": {"text": {"field": "t", "type": "nominal"}}},
    {"data": {"values": [{"m": 1.26, "p": 1333, "t": "C"}]}, "mark": {"type": "text", "align": "left", "baseline": "alphabetic", "fontSize": 22, "color": "#000"}, "encoding": {"text": {"field": "t", "type": "nominal"}}}
  ]
},
{
  "width": 389, "height": 271,
  "encoding": {"x": {"field": "m", "type": "quantitative", "scale": {"domain": [1, 12.65], "nice": false, "zero": false},
    "axis": {"values": [1,2,3,4,5,6,7,8,9,10,11,12], "labelFontSize": 15, "labelFontWeight": "bold", "labelColor": "#000", "labelFlush": false, "tickSize": 3, "labelPadding": 11,
      "title": "Time (month)", "titleFontSize": 19, "titleFontWeight": "bold", "titleColor": "#000", "titleX": 180, "titleY": 58, "titleAlign": "center", "titleBaseline": "alphabetic"}}},
  "layer": [
    {
      "encoding": {"y": {"field": "v", "type": "quantitative", "scale": {"domain": [0, 1.2], "nice": false, "zero": false},
        "axis": {"values": [0, 0.2, 0.4, 0.6, 0.8, 1.0, 1.2], "format": ".1f", "labelFont": "DejaVu Sans", "labelFontSize": 14, "labelColor": "#333", "tickSize": 5, "labelPadding": 9, "title": null}}},
      "layer": [
        {"data": {"name": "shadeB"}, "mark": {"type": "rect", "color": "#d3dcdd"}, "encoding": {"x2": {"field": "m2"}, "y2": {"field": "v2"}}},
        {"data": {"name": "ptsB"}, "mark": {"type": "square", "size": 4, "color": "#111", "opacity": 0.85}},
        {"data": {"name": "iceB"}, "mark": {"type": "line", "color": "#000", "strokeWidth": 4.5}},
        {"data": {"values": [{"m": 1.2, "v": 1.121, "t": "Nuuk"}]}, "mark": {"type": "text", "align": "left", "baseline": "alphabetic", "font": "DejaVu Sans", "fontSize": 16, "color": "#333"}, "encoding": {"text": {"field": "t", "type": "nominal"}}},
        {"data": {"values": [{"m": 1.2, "v": 1.007, "t": "B"}]}, "mark": {"type": "text", "align": "left", "baseline": "alphabetic", "fontSize": 24, "fontWeight": "bold", "color": "#000"}, "encoding": {"text": {"field": "t", "type": "nominal"}}}
      ]
    },
    {"data": {"name": "dayB"}, "mark": {"type": "line", "color": "#444", "strokeWidth": 1},
     "encoding": {"y": {"field": "h", "type": "quantitative", "scale": {"domain": [0, 25], "nice": false},
       "axis": {"orient": "right", "values": [0, 5, 10, 15, 20, 25], "labelFont": "DejaVu Sans", "labelFontSize": 14, "labelColor": "#333", "tickSize": 5, "labelPadding": 6, "title": null}}}}
  ],
  "resolve": {"scale": {"y": "independent"}}
},
{
  "width": 376, "height": 266,
  "encoding": {
    "x": {"field": "m", "type": "quantitative", "scale": {"domain": [1, 12], "nice": false, "zero": false},
      "axis": {"values": [1,2,3,4,5,6,7,8,9,10,11,12], "labelFontSize": 16, "labelFontWeight": "bold", "labelColor": "#000", "labelFlush": false, "tickSize": 4, "labelPadding": 9,
        "title": "Time (month)", "titleFontSize": 19, "titleFontWeight": "bold", "titleColor": "#000", "titleY": 61, "titleBaseline": "alphabetic"}},
    "y": {"field": "p", "type": "quantitative", "scale": {"domain": [0, 1600], "nice": false},
      "axis": {"values": [0,200,400,600,800,1000,1200,1400,1600], "format": "d", "labelFontSize": 16, "labelFontWeight": "bold", "labelColor": "#000", "tickSize": 4, "labelPadding": 7, "title": null}}
  },
  "layer": [
    {"data": {"name": "ppD"}, "mark": {"type": "line"},
     "encoding": {
       "color": {"field": "s", "type": "nominal", "scale": {"domain": ["Juul-Pedersen 2005-2010", "Smidt 1955-1967"], "range": ["#000000", "#7a1a1a"]}, "legend": null},
       "strokeWidth": {"value": 3}}},
    {"data": {"name": "legD"}, "mark": {"type": "rule", "strokeWidth": 3},
     "encoding": {"x2": {"field": "m2"}, "color": {"field": "s", "type": "nominal", "legend": null}}},
    {"data": {"name": "legD"}, "mark": {"type": "text", "align": "left", "baseline": "middle", "fontSize": 11, "fontWeight": "bold", "color": "#000"},
     "encoding": {"x": {"field": "mt", "type": "quantitative"}, "text": {"field": "s", "type": "nominal"}}},
    {"data": {"values": [{"m": 1.3, "p": 1481, "t": "Godthåbsfjord"}]}, "mark": {"type": "text", "align": "left", "baseline": "alphabetic", "fontSize": 14, "fontWeight": "bold", "color": "#000"}, "encoding": {"text": {"field": "t", "type": "nominal"}}},
    {"data": {"values": [{"m": 1.3, "p": 1315, "t": "D"}]}, "mark": {"type": "text", "align": "left", "baseline": "alphabetic", "fontSize": 22, "color": "#000"}, "encoding": {"text": {"field": "t", "type": "nominal"}}}
  ]
}
]
}
